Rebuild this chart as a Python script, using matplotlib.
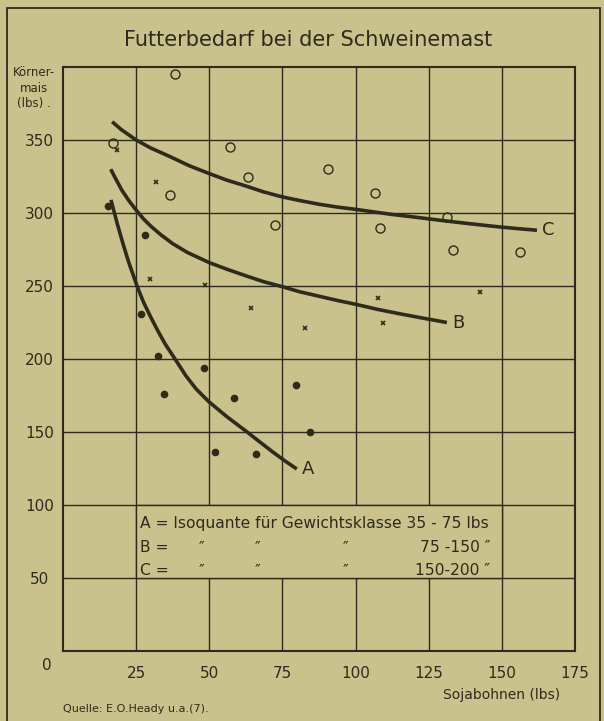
import matplotlib
matplotlib.use("Agg")
import matplotlib.pyplot as plt
from matplotlib.patches import Rectangle

# ---- data ----
a_x = [15.3, 28.0, 26.5, 32.4, 34.4, 48.3, 58.5, 79.7, 84.5, 52.0, 66.1]
a_y = [305, 285, 231, 202, 176, 194, 173, 182, 150, 136, 135]

b_x = [18.4, 31.8, 29.9, 48.7, 64.2, 82.6, 107.5, 109.5, 142.4]
b_y = [343, 321, 255, 251, 235, 221, 242, 225, 246]

c_x = [38.3, 17.2, 36.6, 57.1, 63.2, 72.5, 90.5, 106.5, 108.4, 131.4, 133.3, 156.3]
c_y = [395, 348, 312, 345, 325, 292, 330, 313.5, 290, 297.5, 274.7, 273.5]

curve_a_x = [16.4, 17.5, 18.5, 19.5, 20.5, 21.5, 22.5, 24.0, 25.4, 27.5, 29.9,
             32.5, 35.0, 38.3, 42.0, 45.5, 49.7, 53.0, 56.0, 59.5, 62.8,
             67.0, 71.9, 76.0, 79.9]
curve_a_y = [309, 300.5, 293, 286, 279, 272.5, 266, 257.5, 249.5, 239, 229,
             219, 210, 200, 188.5, 179.5, 171, 165.5, 160.5, 155.2, 150.2,
             143.6, 136, 130, 124.7]

curve_b_x = [16.3, 18.0, 20.0, 22.5, 25.0, 27.5, 30.0, 33.5, 37.5, 42.5, 50.0,
             56.0, 62.5, 68.5, 75.0, 81.0, 87.5, 94.0, 100.0, 107.5, 115.0,
             123.0, 131.2]
curve_b_y = [330, 323.5, 316, 308.5, 302, 296, 291, 285, 279, 273, 266,
             261.5, 257, 253, 249.5, 246, 243, 240, 237.5, 234, 231,
             228, 225]

curve_c_x = [16.8, 20.0, 25.0, 30.0, 36.6, 43.0, 50.0, 56.0, 62.5, 68.5, 75.0,
             81.0, 87.5, 94.0, 100.0, 106.0, 112.5, 119.0, 125.0, 131.0, 137.5,
             143.5, 149.5, 156.0, 162.0]
curve_c_y = [362.5, 357, 350, 344.5, 338.6, 332.5, 327, 322.5, 318.5, 314.5, 311,
             308.5, 306, 304, 302.5, 300.8, 299, 297.5, 296, 294.5, 293,
             291.7, 290.4, 289.2, 288.2]

x_ticks = [25, 50, 75, 100, 125, 150, 175]
y_ticks = [50, 100, 150, 200, 250, 300, 350]

title = "Futterbedarf bei der Schweinemast"
x_label = "Sojabohnen (lbs)"
y_label = "Körner-\nmais\n(lbs) ."
source = "Quelle: E.O.Heady u.a.(7)."
legend_rows = [
    ["A = Isoquante für Gewichtsklasse 35 - 75 lbs"],
    ["B =", "\u2033", "\u2033", "\u2033", "75 -150 \u2033"],
    ["C =", "\u2033", "\u2033", "\u2033", "150-200 \u2033"],
]

# ---- style ----
BG = "#c9c28c"
INK = "#2e2b1c"
W, H = 604, 721
plt.rcParams["font.family"] = ["DejaVu Sans"]

fig = plt.figure(figsize=(W / 100, H / 100), dpi=100, facecolor=BG)
ax = fig.add_axes([63 / W, 1 - 651 / H, 512 / W, 584 / H], facecolor=BG)
ax.set_xlim(0, 175)
ax.set_ylim(0, 400)

# outer border
fig.patches.append(Rectangle((7 / W, -0.02), 593 / W, 1 - 8 / H + 0.02,
                             transform=fig.transFigure, fill=False,
                             edgecolor=INK, linewidth=1.3))

# grid
ax.set_xticks(x_ticks)
ax.set_yticks(y_ticks)
ax.grid(True, color=INK, linewidth=1.0, zorder=1)
ax.set_axisbelow(True)
for s in ax.spines.values():
    s.set_color(INK)
    s.set_linewidth(1.5)
ax.tick_params(length=0, colors=INK, labelsize=11)
ax.tick_params(axis="x", pad=11)
ax.tick_params(axis="y", pad=17)
for lab in ax.get_yticklabels():
    lab.set_horizontalalignment("center")

# legend box (blanks inner grid)
ax.add_patch(Rectangle((25, 50), 125, 50, facecolor=BG, edgecolor=INK,
                       linewidth=1.0, zorder=2))

# curves
for cx, cy in [(curve_a_x, curve_a_y), (curve_b_x, curve_b_y),
               (curve_c_x, curve_c_y)]:
    ax.plot(cx, cy, color=INK, linewidth=2.6, zorder=3,
            solid_capstyle="butt", solid_joinstyle="round")
ax.text(curve_a_x[-1] + 1.8, curve_a_y[-1], "A", fontsize=13, color=INK,
        va="center", ha="left")
ax.text(curve_b_x[-1] + 1.8, curve_b_y[-1], "B", fontsize=13, color=INK,
        va="center", ha="left")
ax.text(curve_c_x[-1] + 1.8, curve_c_y[-1], "C", fontsize=13, color=INK,
        va="center", ha="left")

# points
ax.plot(a_x, a_y, linestyle="none", marker="o", markersize=4.5,
        color=INK, zorder=4)
ax.plot(b_x, b_y, linestyle="none", marker="x", markersize=3.5,
        markeredgewidth=1.2, color=INK, zorder=4)
ax.plot(c_x, c_y, linestyle="none", marker="o", markersize=6.5,
        markerfacecolor="none", markeredgewidth=1.0, markeredgecolor=INK,
        zorder=4)

# legend text
LFS = 11.2
ax.text(26.3, 87, legend_rows[0][0], fontsize=LFS, color=INK, va="center",
        ha="left", zorder=5)
col_x = [26.3, 47.5, 66.5, 96.5, 146.0]
for r, ry in zip(legend_rows[1:], [71, 55]):
    for i, (txt, cx) in enumerate(zip(r, col_x)):
        ha = "right" if i == len(r) - 1 else ("left" if i == 0 else "center")
        ax.text(cx, ry, txt, fontsize=LFS, color=INK, va="center", ha=ha,
                zorder=5)

# texts
fig.text(308 / W, 1 - 40 / H, title, fontsize=15, color=INK,
         ha="center", va="center")
fig.text(34 / W, 1 - 88 / H, y_label, fontsize=8.5, color=INK,
         ha="center", va="center", linespacing=1.25)
fig.text(47 / W, 1 - 666 / H, "0", fontsize=11, color=INK,
         ha="center", va="center")
fig.text(502 / W, 1 - 695 / H, x_label, fontsize=10, color=INK,
         ha="center", va="center")
fig.text(63 / W, 1 - 709 / H, source, fontsize=8, color=INK,
         ha="left", va="center")

fig.savefig("out.png", dpi=100, facecolor=BG)
